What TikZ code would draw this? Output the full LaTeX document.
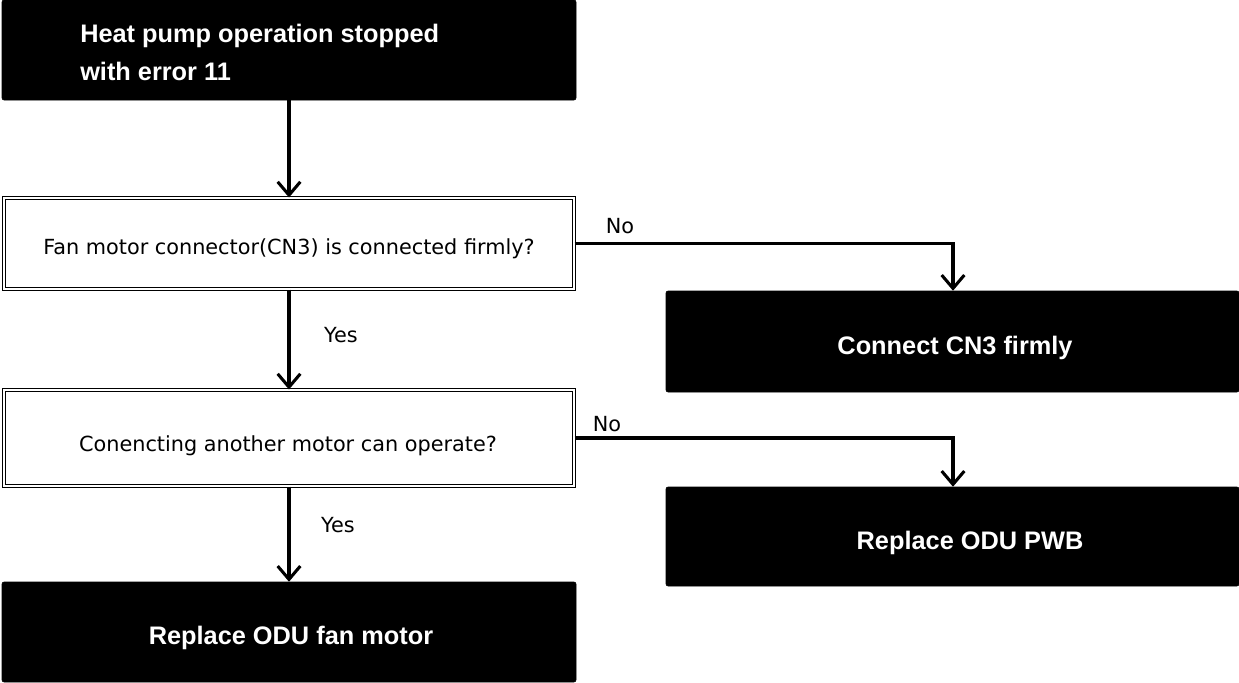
\documentclass[tikz,border=0pt]{standalone}
\usepackage{fontspec}
\setmainfont{Liberation Sans}
\newfontfamily\regfont{DejaVu Sans}
\usetikzlibrary{arrows.meta,fit}
\begin{document}
\begin{tikzpicture}[x=0.75pt,y=-0.75pt,
  blackbox/.style={fill=black,draw=black,rounded corners=1.5pt,inner sep=0pt},
  dblbox/.style={draw=black,double=white,double distance=1.6pt,line width=0.75pt,inner sep=0pt},
  whitetxt/.style={text=white,font=\fontsize{19}{28.5}\selectfont\bfseries,inner sep=0pt},
  normtxt/.style={font=\regfont\fontsize{15.6}{17}\selectfont,inner sep=0pt},
  lbl/.style={font=\regfont\fontsize{15.6}{17}\selectfont,inner sep=0pt},
  arr/.style={line width=2.3pt,-{Straight Barb[length=10pt,width=17pt,line width=2.3pt]}},
  ]
\useasboundingbox (0,0) rectangle (1239,682);
% boxes
\node[blackbox,fit={(2,0)(576,100)}] (top) {};
\node[dblbox,fit={(4,198)(574,289)}] (q1) {};
\node[dblbox,fit={(4,390)(574,486)}] (q2) {};
\node[blackbox,fit={(666,291)(1239,392)}] (c3) {};
\node[blackbox,fit={(666,487)(1239,586)}] (pwb) {};
\node[blackbox,fit={(2,582)(576,682)}] (fan) {};
% texts
\node[whitetxt,anchor=west,align=left] (toptxt) at (80,52) {Heat pump operation stopped\\with error 11};
\node[normtxt] (q1txt) at (289,249) {Fan motor connector(CN3) is connected firmly?};
\node[normtxt] (q2txt) at (288,446) {Conencting another motor can operate?};
\node[whitetxt] (c3txt) at (955,348) {Connect CN3 firmly};
\node[whitetxt] (pwbtxt) at (970,543) {Replace ODU PWB};
\node[whitetxt] (fantxt) at (291,638) {Replace ODU fan motor};
% connectors
\draw[arr] (top.south) -- (q1.north);
\draw[arr] (q1.south) -- (q2.north);
\draw[arr] (q2.south) -- (fan.north);
\draw[arr] (q1.east) -| (c3.north -| 953,0);
\draw[arr] (q2.east) -| (pwb.north -| 953,0);
% labels
\node[lbl] (no1) at (620,226) {No};
\node[lbl] (no2) at (607,424) {No};
\node[lbl] (yes1) at (341,335) {Yes};
\node[lbl] (yes2) at (338,525) {Yes};
\end{tikzpicture}
\end{document}
